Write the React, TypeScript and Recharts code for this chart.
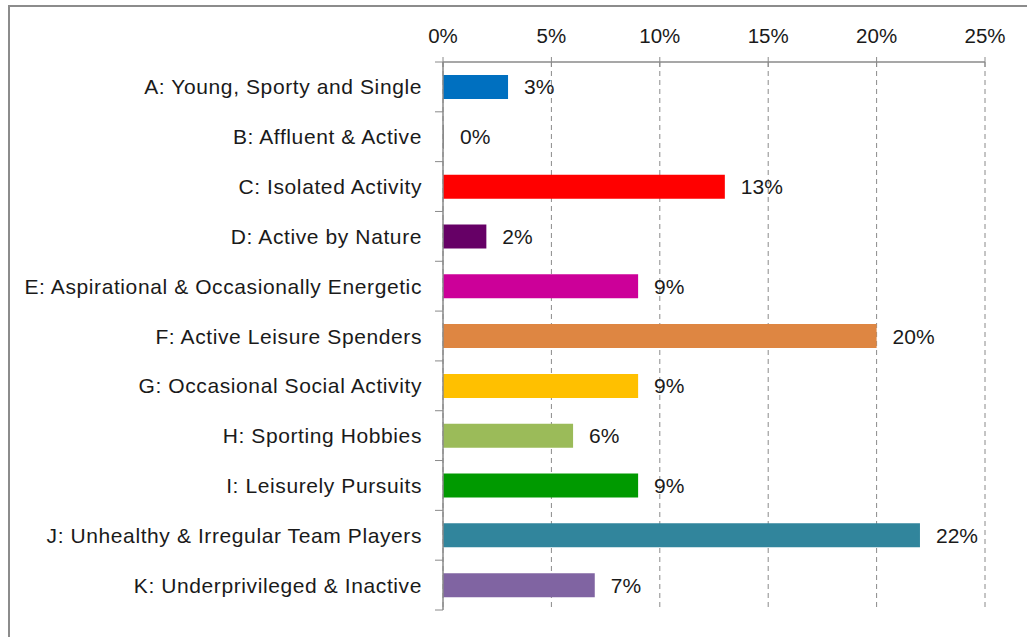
import React from "react";
import { BarChart, Bar, XAxis, YAxis, CartesianGrid, Cell, LabelList } from "recharts";

const categories = [
  "A: Young, Sporty and Single",
  "B: Affluent & Active",
  "C: Isolated Activity",
  "D: Active by Nature",
  "E: Aspirational & Occasionally Energetic",
  "F: Active Leisure Spenders",
  "G: Occasional Social Activity",
  "H: Sporting Hobbies",
  "I: Leisurely Pursuits",
  "J: Unhealthy & Irregular Team Players",
  "K: Underprivileged & Inactive",
];
const values = [0.03, 0.0, 0.13, 0.02, 0.09, 0.2, 0.09, 0.06, 0.09, 0.22, 0.07];
const colors = [
  "#0070C0",
  "#8a8a8a",
  "#FF0000",
  "#660066",
  "#CC0099",
  "#DE8642",
  "#FFC000",
  "#9BBB59",
  "#009A00",
  "#31859C",
  "#8064A2",
];
const xTicks = [0, 0.05, 0.1, 0.15, 0.2, 0.25];

const data = categories.map((name, i) => ({ name, value: values[i], color: colors[i] }));

const W = 1027;
const H = 637;
const MARGIN = { top: 22, right: 42, left: 0, bottom: 27 };
const X_AXIS_H = 40;
const Y_AXIS_W = 443;
const PLOT_H = H - MARGIN.top - MARGIN.bottom - X_AXIS_H;
const BAND = PLOT_H / categories.length;
const AXIS_COLOR = "#8a8a8a";
const TEXT_COLOR = "#1a1a1a";
const FONT = "'Liberation Sans', Arial, sans-serif";

const pct = (v: number) => `${Math.round(v * 100)}%`;

const XTick = (props: any) => {
  const { x, y, payload } = props;
  const axisY = y + 19;
  return (
    <g>
      <line x1={x} x2={x} y1={axisY - 5} y2={axisY + 5} stroke={AXIS_COLOR} strokeWidth={1} />
      <text x={x} y={y} textAnchor="middle" fontSize={20.5} fill={TEXT_COLOR} fontFamily={FONT}>
        {pct(payload.value)}
      </text>
    </g>
  );
};

const YTick = (props: any) => {
  const { x, y, payload, index } = props;
  const axisX = x + 21;
  const last = index === categories.length - 1;
  return (
    <g>
      <line x1={axisX - 8} x2={axisX} y1={y - BAND / 2} y2={y - BAND / 2} stroke={AXIS_COLOR} strokeWidth={1} />
      {last && (
        <line x1={axisX - 8} x2={axisX} y1={y + BAND / 2} y2={y + BAND / 2} stroke={AXIS_COLOR} strokeWidth={1} />
      )}
      <text
        x={x}
        y={y}
        dy="0.36em"
        textAnchor="end"
        fontSize={21}
        letterSpacing={0.6}
        fill={TEXT_COLOR}
        fontFamily={FONT}
      >
        {payload.value}
      </text>
    </g>
  );
};

export default function App() {
  return (
    <div
      style={{
        position: "fixed",
        left: 0,
        top: 0,
        width: W,
        height: H,
        overflow: "hidden",
        background: "#fff",
      }}
    >
      <div
        style={{
          position: "absolute",
          left: 8,
          top: 5,
          width: 2000,
          height: 2000,
          borderTop: "2px solid #8c8c8c",
          borderLeft: "2px solid #8c8c8c",
        }}
      />
      <div style={{ position: "absolute", left: 0, top: 0 }}>
        <BarChart width={W} height={H} data={data} layout="vertical" margin={MARGIN} barSize={24}>
          <CartesianGrid horizontal={false} vertical={true} stroke={AXIS_COLOR} strokeDasharray="5 4" />
          <XAxis
            type="number"
            orientation="top"
            domain={[0, 0.25]}
            ticks={xTicks}
            height={X_AXIS_H}
            tickSize={0}
            tickMargin={19}
            tickLine={false}
            axisLine={{ stroke: AXIS_COLOR, strokeWidth: 1.5 }}
            tick={<XTick />}
            interval={0}
          />
          <YAxis
            type="category"
            dataKey="name"
            width={Y_AXIS_W}
            tickSize={0}
            tickMargin={21}
            tickLine={false}
            axisLine={{ stroke: AXIS_COLOR, strokeWidth: 1.5 }}
            tick={<YTick />}
            interval={0}
          />
          <Bar dataKey="value" isAnimationActive={false} minPointSize={1}>
            {data.map((d, i) => (
              <Cell key={i} fill={d.color} />
            ))}
            <LabelList
              dataKey="value"
              position="right"
              offset={16}
              formatter={(v: any) => pct(Number(v))}
              fill={TEXT_COLOR}
              fontSize={21}
              fontFamily={FONT}
            />
          </Bar>
        </BarChart>
      </div>
    </div>
  );
}
